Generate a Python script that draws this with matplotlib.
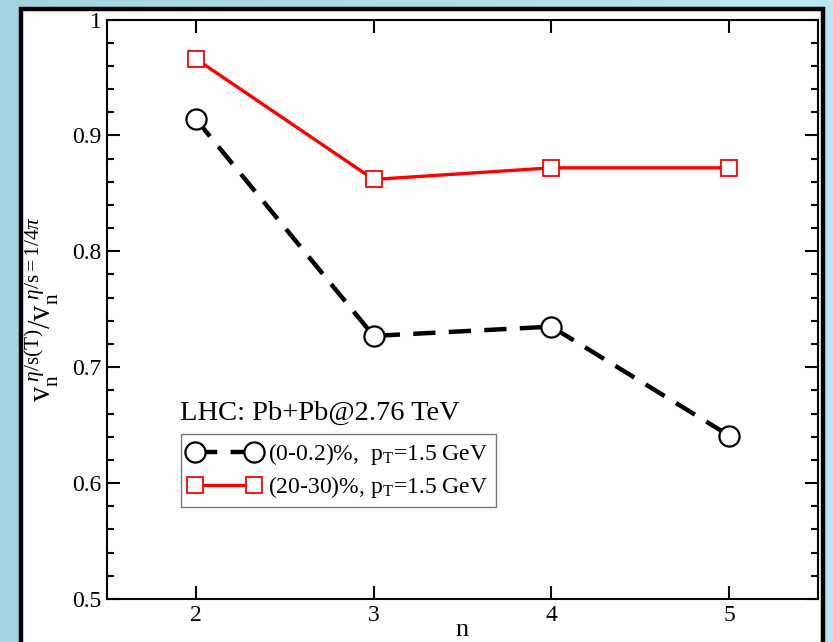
import numpy as np
import matplotlib
matplotlib.use("Agg")
import matplotlib.pyplot as plt
from matplotlib.patches import Rectangle
from matplotlib.ticker import MultipleLocator

plt.rcParams['font.family'] = ['Liberation Serif', 'DejaVu Serif']
plt.rcParams['mathtext.fontset'] = 'custom'
plt.rcParams['mathtext.rm'] = 'Liberation Serif'
plt.rcParams['mathtext.it'] = 'Liberation Serif:italic'

n_vals = [2, 3, 4, 5]
central = [0.914, 0.727, 0.735, 0.641]
midcentral = [0.966, 0.862, 0.872, 0.872]
label_central = r'(0-0.2)%,  p$_\mathrm{T}$=1.5 GeV'
label_mid = r'(20-30)%, p$_\mathrm{T}$=1.5 GeV'
title_text = 'LHC: Pb+Pb@2.76 TeV'
x_ticks = [2, 3, 4, 5]
y_ticks = [0.5, 0.6, 0.7, 0.8, 0.9, 1.0]
y_ticklabels = ['0.5', '0.6', '0.7', '0.8', '0.9', '1']

W, H = 833, 642
fig = plt.figure(figsize=(W / 100, H / 100), dpi=100)

# slide background gradient
bg = fig.add_axes([0, 0, 1, 1], zorder=-10)
grad = np.linspace(0, 1, 256)[None, :, None]
c0 = np.array([164, 211, 225]) / 255
c1 = np.array([186, 231, 243]) / 255
img = c0 + (c1 - c0) * grad
bg.imshow(np.repeat(img, 2, axis=0), aspect='auto', extent=[0, 1, 0, 1])
bg.set_axis_off()
bg.add_patch(Rectangle((20.5 / W, -0.05), (822.5 - 20.5) / W, 1.05 - 8.5 / H,
                       facecolor='white', edgecolor='black', lw=3.2,
                       transform=bg.transAxes))
bg.set_xlim(0, 1)
bg.set_ylim(0, 1)

ax = fig.add_axes([107 / W, 1 - 599 / H, (818 - 107) / W, (599 - 19.5) / H])
ax.set_facecolor('white')
ax.set_xlim(1.5, 5.5)
ax.set_ylim(0.5, 1.0)

ax.plot(n_vals, central, color='black', lw=3.2, ls=(0, (5, 3)),
        marker='o', ms=14.5, mfc='white', mec='black', mew=1.6,
        label=label_central, zorder=3)
ax.plot(n_vals, midcentral, color='red', lw=2.4, ls='-',
        marker='s', ms=11.5, mfc='white', mec='red', mew=1.3,
        label=label_mid, zorder=3)

ax.set_xticks(x_ticks)
ax.set_yticks(y_ticks)
ax.set_yticklabels(y_ticklabels)
ax.yaxis.set_minor_locator(MultipleLocator(0.02))
ax.tick_params(axis='both', which='both', direction='in', top=True, right=True,
               labelsize=17, width=1.5)
ax.tick_params(axis='both', which='major', length=9.5, pad=4)
ax.tick_params(axis='y', which='minor', length=5)
for s in ax.spines.values():
    s.set_linewidth(1.5)

fig.text(462 / W, 1 - 636 / H, 'n', fontsize=19, ha='center', va='baseline')
ax.set_ylabel(r'$\mathrm{v}_\mathrm{n}^{\ \eta/\mathrm{s(T)}}/\mathrm{v}_\mathrm{n}^{\ \eta/\mathrm{s}=1/4\pi}$',
              fontsize=22, labelpad=8)

fig.text(180 / W, 1 - 420 / H, title_text, fontsize=20.5, va='baseline', ha='left')

leg = ax.legend(loc='upper left', bbox_to_anchor=(181 / W, 1 - 434 / H),
                bbox_transform=fig.transFigure, fontsize=17, frameon=True,
                fancybox=False, edgecolor='#555555', handlelength=3.1,
                numpoints=2, borderpad=0.3, labelspacing=0.3,
                handletextpad=0.3, borderaxespad=0)
leg.get_frame().set_linewidth(1.0)

fig.savefig('out.png', dpi=100)
